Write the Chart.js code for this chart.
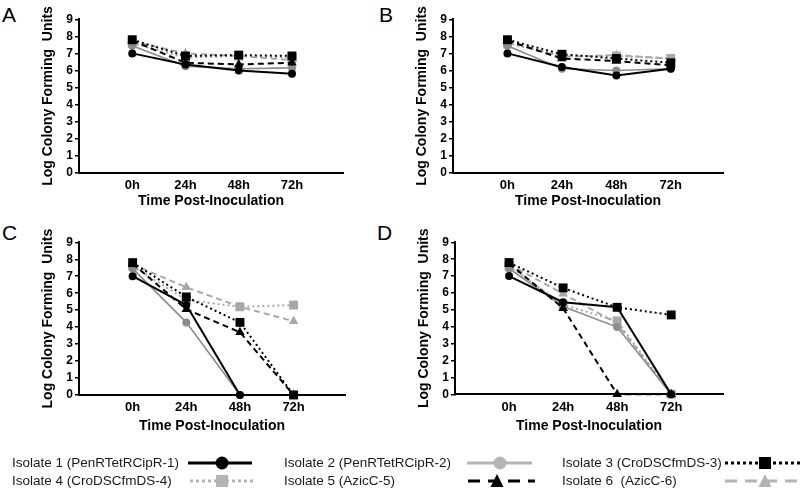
<!DOCTYPE html>
<html>
<head>
<meta charset="utf-8">
<script src="https://cdn.jsdelivr.net/npm/chart.js@4.4.1/dist/chart.umd.min.js"></script>
<style>
body { margin: 0; background: #fff; }
#wrap { position: relative; width: 800px; height: 490px; overflow: hidden; font-family: "Liberation Sans", Arial, sans-serif; }
canvas { position: absolute; }
.letter { position: absolute; font-size: 21px; line-height: 1; color: #000; }
.leg { position: absolute; font-size: 13.5px; line-height: 18px; height: 18px; color: #1a1a1a; white-space: pre; }
</style>
</head>
<body>
<div id="wrap">
  <div class="letter" style="left:2px;top:4px">A</div>
  <div class="letter" style="left:379px;top:4px">B</div>
  <div class="letter" style="left:2px;top:222px">C</div>
  <div class="letter" style="left:377px;top:222px">D</div>

  <canvas id="chartA" width="375" height="210" style="left:0;top:0"></canvas>
  <canvas id="chartB" width="425" height="210" style="left:375px;top:0"></canvas>
  <canvas id="chartC" width="375" height="226" style="left:0;top:210px"></canvas>
  <canvas id="chartD" width="425" height="226" style="left:375px;top:210px"></canvas>

  <canvas id="legendCanvas" width="800" height="45" style="left:0;top:445px"></canvas>
  <div class="leg" style="left:12px;top:454px">Isolate 1 (PenRTetRCipR-1)</div>
  <div class="leg" style="left:284px;top:454px">Isolate 2 (PenRTetRCipR-2)</div>
  <div class="leg" style="left:562px;top:454px">Isolate 3 (CroDSCfmDS-3)</div>
  <div class="leg" style="left:12px;top:472px">Isolate 4 (CroDSCfmDS-4)</div>
  <div class="leg" style="left:284px;top:472px">Isolate 5 (AzicC-5)</div>
  <div class="leg" style="left:562px;top:472px">Isolate 6  (AzicC-6)</div>
</div>

<script>
// time points and their tick labels
const hours = [0, 24, 48, 72];
const tickLabels = ['0h', '24h', '48h', '72h'];
const isolateNames = ['Isolate 1', 'Isolate 2', 'Isolate 3', 'Isolate 4', 'Isolate 5', 'Isolate 6'];

// log CFU per isolate (rows = isolate 1..6, cols = 0h, 24h, 48h, 72h)
const panelA = [
    [7.0, 6.35, 6.0, 5.8],
    [7.45, 6.25, 6.1, 6.15],
    [7.8, 6.85, 6.9, 6.85],
    [7.6, 6.75, 6.85, 6.75],
    [7.75, 6.45, 6.35, 6.45],
    [7.7, 7.0, 6.85, 6.6]
];
const panelB = [
    [7.0, 6.2, 5.7, 6.1],
    [7.45, 6.1, 6.0, 6.1],
    [7.8, 6.95, 6.7, 6.45],
    [7.6, 6.85, 6.85, 6.7],
    [7.75, 6.7, 6.55, 6.3],
    [7.7, 6.8, 6.9, 6.7]
];
const panelC = [
    [7.0, 5.3, 0, 0],
    [7.45, 4.28, 0, 0],
    [7.8, 5.78, 4.28, 0],
    [7.6, 5.6, 5.2, 5.3],
    [7.75, 5.05, 3.7, 0],
    [7.7, 6.35, 5.2, 4.35]
];
const panelD = [
    [7.0, 5.45, 5.15, 0],
    [7.45, 5.2, 3.98, 0],
    [7.8, 6.3, 5.15, 4.7],
    [7.6, 5.3, 4.35, 0],
    [7.75, 5.1, 0, 0],
    [7.7, 5.95, 4.2, 0]
];

// drawing styles for each isolate
const isolateStyles = [
    { color: '#000000', dash: [], shape: 'circle', radius: 4, width: 2, order: 0 },
    { color: '#8c8c8c', dash: [], shape: 'circle', radius: 4, width: 1.6, order: 1 },
    { color: '#000000', dash: [2, 3], shape: 'rect', radius: 6.3, width: 2, order: 0 },
    { color: '#a8a8a8', dash: [2, 3], shape: 'rect', radius: 6.3, width: 2, order: 1 },
    { color: '#000000', dash: [6, 4], shape: 'triangle', radius: 5.5, width: 2, order: 0 },
    { color: '#a8a8a8', dash: [6, 4], shape: 'triangle', radius: 5.5, width: 2, order: 1 }
];

const fontFamily = '"Liberation Sans", Arial, sans-serif';

function makePanel(id, values, box) {
    const ctx = document.getElementById(id).getContext('2d');
    const canvas = ctx.canvas;
    const datasets = values.map(function (row, i) {
        const s = isolateStyles[i];
        return {
            label: isolateNames[i],
            data: row.map(function (v, j) { return { x: hours[j], y: v }; }),
            borderColor: s.color,
            backgroundColor: s.color,
            borderWidth: s.width,
            borderDash: s.dash,
            pointStyle: s.shape,
            pointRadius: s.radius,
            pointBorderWidth: 0,
            pointBackgroundColor: s.color,
            tension: 0,
            clip: false,
            order: s.order
        };
    });

    new Chart(ctx, {
        type: 'line',
        data: { datasets: datasets },
        options: {
            responsive: false,
            animation: false,
            events: [],
            layout: {
                padding: {
                    left: box.axisX - 43,
                    right: canvas.width - box.axisRight,
                    top: box.yTop,
                    bottom: 0
                }
            },
            plugins: {
                legend: { display: false },
                tooltip: { enabled: false }
            },
            scales: {
                x: {
                    type: 'linear',
                    min: -24,
                    max: 95,
                    afterBuildTicks: function (scale) {
                        scale.ticks = hours.map(function (h) { return { value: h }; });
                    },
                    afterFit: function (scale) {
                        scale.height = canvas.height - box.yZero;
                    },
                    ticks: {
                        color: '#000',
                        padding: 5,
                        maxRotation: 0,
                        autoSkip: false,
                        font: { family: fontFamily, size: 13, weight: 'bold' },
                        callback: function (v) { return tickLabels[hours.indexOf(v)]; }
                    },
                    grid: { display: false, drawTicks: false },
                    border: { color: '#000', width: 2 },
                    title: {
                        display: true,
                        text: 'Time Post-Inoculation',
                        color: '#000',
                        font: { family: fontFamily, size: 14, weight: 'bold' },
                        padding: { top: 0, bottom: box.titlePad }
                    }
                },
                y: {
                    min: 0,
                    max: 9,
                    afterFit: function (scale) {
                        scale.width = 43;
                    },
                    ticks: {
                        stepSize: 1,
                        autoSkip: false,
                        color: '#000',
                        padding: 2,
                        font: { family: fontFamily, size: 12, weight: 'bold' }
                    },
                    grid: {
                        drawOnChartArea: false,
                        drawTicks: true,
                        tickLength: 4,
                        color: '#000',
                        lineWidth: 1.5
                    },
                    border: { color: '#000', width: 2 },
                    title: {
                        display: true,
                        text: 'Log Colony Forming  Units',
                        color: '#000',
                        font: { family: fontFamily, size: 14, weight: 'bold' },
                        padding: { top: 4, bottom: 0 }
                    }
                }
            }
        }
    });
}

makePanel('chartA', panelA, { axisX: 79, axisRight: 343, yTop: 19.3, yZero: 172.7, titlePad: 0.6 });
makePanel('chartB', panelB, { axisX: 78, axisRight: 348, yTop: 19.3, yZero: 172.7, titlePad: 0.6 });
makePanel('chartC', panelC, { axisX: 79, axisRight: 345, yTop: 32.3, yZero: 185, titlePad: 1.6 });
makePanel('chartD', panelD, { axisX: 80, axisRight: 348, yTop: 32.3, yZero: 184.3, titlePad: 1.6 });

// legend line samples
const legendStyles = [
    { color: '#000000', dash: [], shape: 'circle', x0: 188, x1: 252, mx: 222, y: 18 },
    { color: '#b4b4b4', dash: [], shape: 'circle', x0: 467, x1: 532, mx: 500, y: 18 },
    { color: '#000000', dash: [3, 3], shape: 'rect', x0: 725, x1: 800, mx: 765, y: 18 },
    { color: '#b4b4b4', dash: [3, 3], shape: 'rect', x0: 190, x1: 255, mx: 222, y: 36 },
    { color: '#000000', dash: [12, 8], shape: 'triangle', x0: 468, x1: 535, mx: 497, y: 36 },
    { color: '#b4b4b4', dash: [12, 8], shape: 'triangle', x0: 725, x1: 800, mx: 765, y: 36 }
];

function drawLegend() {
    const ctx = document.getElementById('legendCanvas').getContext('2d');
    legendStyles.forEach(function (s) {
        ctx.save();
        ctx.strokeStyle = s.color;
        ctx.fillStyle = s.color;
        ctx.lineWidth = 3;
        ctx.setLineDash(s.dash);
        ctx.beginPath();
        ctx.moveTo(s.x0, s.y);
        ctx.lineTo(s.x1, s.y);
        ctx.stroke();
        ctx.setLineDash([]);
        ctx.beginPath();
        if (s.shape === 'circle') {
            ctx.arc(s.mx, s.y, 6.5, 0, Math.PI * 2);
        } else if (s.shape === 'rect') {
            ctx.rect(s.mx - 6, s.y - 6, 12, 12);
        } else {
            ctx.moveTo(s.mx, s.y - 7);
            ctx.lineTo(s.mx + 6.5, s.y + 6);
            ctx.lineTo(s.mx - 6.5, s.y + 6);
            ctx.closePath();
        }
        ctx.fill();
        ctx.restore();
    });
}

drawLegend();
</script>
</body>
</html>
